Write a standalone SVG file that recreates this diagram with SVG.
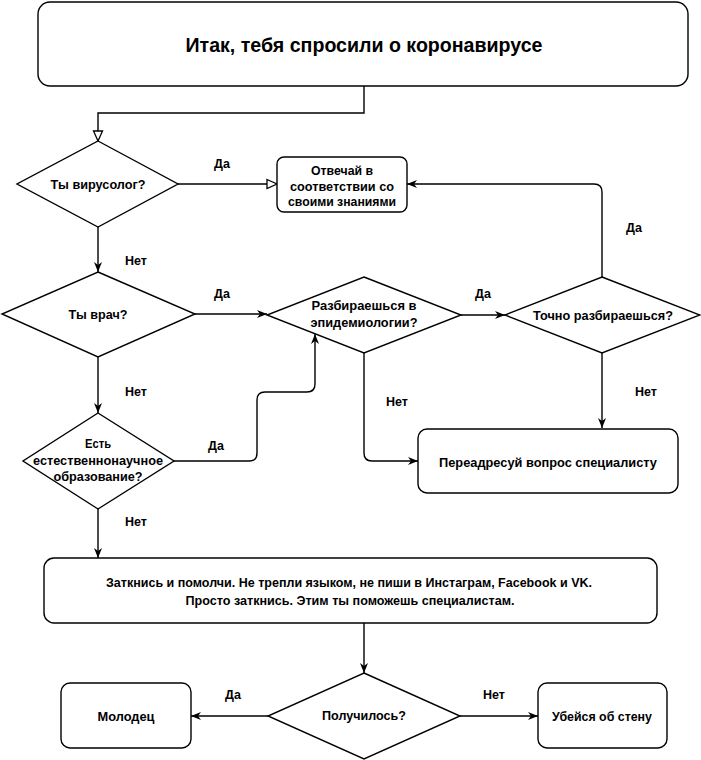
<svg xmlns="http://www.w3.org/2000/svg" width="701" height="760" viewBox="0 0 701 760">
<defs>
<style>
.box{fill:#fff;stroke:#000;stroke-width:1.4}
.dia{fill:#fff;stroke:#000;stroke-width:1.4}
.edge{fill:none;stroke:#000;stroke-width:1.4}
text{font-family:"Liberation Sans",Arial,sans-serif;font-weight:bold;fill:#000;text-anchor:middle;dominant-baseline:central}
.t{font-size:13px}
.lbl{font-size:12.5px}
.title{font-size:20px}
</style>
<marker id="open" markerUnits="userSpaceOnUse" markerWidth="12" markerHeight="12" refX="11" refY="5.5" orient="auto" viewBox="0 0 12 11">
<path d="M1,1 L11,5.5 L1,10 Z" fill="#fff" stroke="#000" stroke-width="1.3"/>
</marker>
<marker id="arr" markerUnits="userSpaceOnUse" markerWidth="10" markerHeight="8" refX="10" refY="4" orient="auto" viewBox="0 0 10 8">
<path d="M0,0 L10,4 L0,8 L3,4 Z" fill="#000"/>
</marker>
</defs>
<rect width="701" height="760" fill="#fff"/>

<g id="edges">
<path class="edge" d="M364,86 V113 H98 V141" marker-end="url(#open)"/>
<path class="edge" d="M178,184 H277" marker-end="url(#open)"/>
<path class="edge" d="M98,227 V272" marker-end="url(#arr)"/>
<path class="edge" d="M195,314 H267" marker-end="url(#arr)"/>
<path class="edge" d="M461,315 H505" marker-end="url(#arr)"/>
<path class="edge" d="M602,277 V192 Q602,184 594,184 H407" marker-end="url(#arr)"/>
<path class="edge" d="M602,353 V428" marker-end="url(#arr)"/>
<path class="edge" d="M364,353 V453 Q364,461 372,461 H418" marker-end="url(#arr)"/>
<path class="edge" d="M98,357 V413" marker-end="url(#arr)"/>
<path class="edge" d="M174,461 H249 Q257,461 257,453 V400 Q257,392 265,392 H307 Q315,392 315,384 V334" marker-end="url(#arr)"/>
<path class="edge" d="M98,509 V558" marker-end="url(#arr)"/>
<path class="edge" d="M364,623 V673" marker-end="url(#arr)"/>
<path class="edge" d="M268,716 H191" marker-end="url(#arr)"/>
<path class="edge" d="M460,716 H538" marker-end="url(#arr)"/>
<text class="lbl" x="222" y="164">Да</text>
<text class="lbl" x="136" y="261">Нет</text>
<text class="lbl" x="222" y="294">Да</text>
<text class="lbl" x="483" y="294">Да</text>
<text class="lbl" x="634" y="228">Да</text>
<text class="lbl" x="136" y="392">Нет</text>
<text class="lbl" x="397" y="402">Нет</text>
<text class="lbl" x="646" y="392">Нет</text>
<text class="lbl" x="216" y="446">Да</text>
<text class="lbl" x="136" y="522">Нет</text>
<text class="lbl" x="233" y="695">Да</text>
<text class="lbl" x="494" y="695">Нет</text>
</g>

<g id="start">
<rect class="box" x="38" y="2" width="650" height="84" rx="12"/>
<text class="title" x="364" y="45" textLength="357" lengthAdjust="spacingAndGlyphs">Итак, тебя спросили о коронавирусе</text>
</g>

<g id="q-virologist">
<polygon class="dia" points="98,141 178,184 98,227 17,184"/>
<text class="t" x="98" y="184" textLength="95" lengthAdjust="spacingAndGlyphs">Ты вирусолог?</text>
</g>

<g id="answer">
<rect class="box" x="277" y="157" width="130" height="55" rx="7"/>
<text class="t" x="342" y="170" textLength="62" lengthAdjust="spacingAndGlyphs">Отвечай в</text>
<text class="t" x="342" y="186" textLength="104" lengthAdjust="spacingAndGlyphs">соответствии со</text>
<text class="t" x="342" y="201" textLength="108" lengthAdjust="spacingAndGlyphs">своими знаниями</text>
</g>

<g id="q-doctor">
<polygon class="dia" points="98,272 195,314 98,357 2,314"/>
<text class="t" x="98" y="314" textLength="59" lengthAdjust="spacingAndGlyphs">Ты врач?</text>
</g>

<g id="q-epidemiology">
<polygon class="dia" points="364,277 461,315 364,353 267,315"/>
<text class="t" x="364" y="305" textLength="105" lengthAdjust="spacingAndGlyphs">Разбираешься в</text>
<text class="t" x="364" y="322" textLength="107" lengthAdjust="spacingAndGlyphs">эпидемиологии?</text>
</g>

<g id="q-sure">
<polygon class="dia" points="602,277 700,315 602,353 505,315"/>
<text class="t" x="603" y="315" textLength="140" lengthAdjust="spacingAndGlyphs">Точно разбираешься?</text>
</g>

<g id="q-science">
<polygon class="dia" points="98,413 174,461 98,509 23,461"/>
<text class="t" x="98" y="443" textLength="26" lengthAdjust="spacingAndGlyphs">Есть</text>
<text class="t" x="98" y="460" textLength="130" lengthAdjust="spacingAndGlyphs">естественнонаучное</text>
<text class="t" x="98" y="476" textLength="89" lengthAdjust="spacingAndGlyphs">образование?</text>
</g>

<g id="redirect">
<rect class="box" x="418" y="429" width="260" height="64" rx="9"/>
<text class="t" x="548" y="462" textLength="218" lengthAdjust="spacingAndGlyphs">Переадресуй вопрос специалисту</text>
</g>

<g id="shutup">
<rect class="box" x="44" y="558" width="613" height="65" rx="10"/>
<text class="t" x="349" y="582" textLength="486" lengthAdjust="spacingAndGlyphs">Заткнись и помолчи. Не трепли языком, не пиши в Инстаграм, Facebook и VK.</text>
<text class="t" x="350" y="600" textLength="329" lengthAdjust="spacingAndGlyphs">Просто заткнись. Этим ты поможешь специалистам.</text>
</g>

<g id="q-success">
<polygon class="dia" points="364,673 460,716 364,759 268,716"/>
<text class="t" x="364" y="715" textLength="84" lengthAdjust="spacingAndGlyphs">Получилось?</text>
</g>

<g id="welldone">
<rect class="box" x="61" y="683" width="130" height="65" rx="9"/>
<text class="t" x="126" y="716" textLength="57" lengthAdjust="spacingAndGlyphs">Молодец</text>
</g>

<g id="wall">
<rect class="box" x="538" y="683" width="129" height="65" rx="9"/>
<text class="t" x="602" y="716" textLength="100" lengthAdjust="spacingAndGlyphs">Убейся об стену</text>
</g>
</svg>
